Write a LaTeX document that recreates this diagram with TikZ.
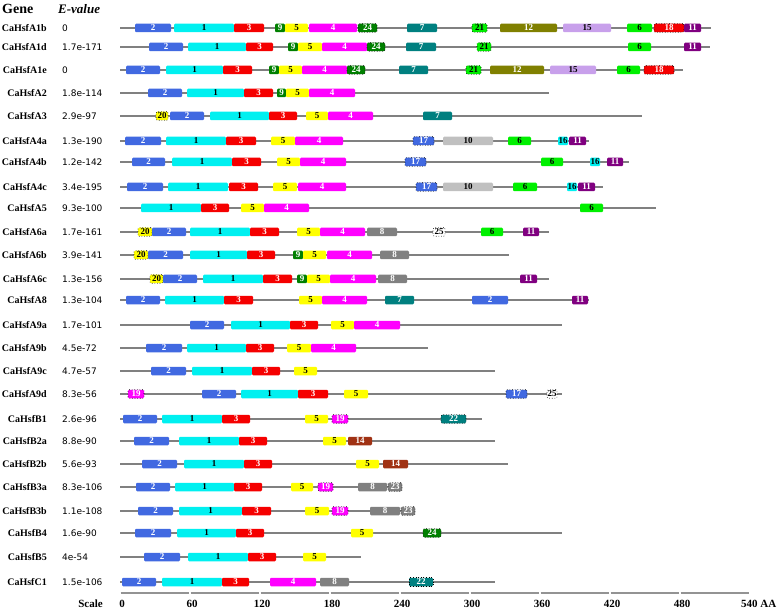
\documentclass[tikz,border=0pt]{standalone}
\usepackage{fontspec}
\setmainfont{Liberation Serif}
\newfontfamily\evfont{DejaVu Sans}
\definecolor{mcyan}{RGB}{0,240,240}
\definecolor{mblue}{RGB}{65,105,225}
\definecolor{mred}{RGB}{245,0,0}
\definecolor{mmagenta}{RGB}{255,0,255}
\definecolor{myellow}{RGB}{255,255,0}
\definecolor{mlime}{RGB}{0,240,0}
\definecolor{mteal}{RGB}{0,128,128}
\definecolor{mgray}{RGB}{128,128,128}
\definecolor{mgreen}{RGB}{0,128,0}
\definecolor{msilver}{RGB}{192,192,192}
\definecolor{mpurple}{RGB}{128,0,128}
\definecolor{molive}{RGB}{128,128,0}
\definecolor{mbrown}{RGB}{160,50,20}
\definecolor{mlilac}{RGB}{200,160,235}
\definecolor{backbone}{RGB}{128,128,128}

\newcommand{\generow}[5]{%
  \node[gene] (#2) at (47,#1) {CaHsf#2};
  \node[evalue] (#2-e) at (62,#1) {#3};
  \coordinate (#2-s) at (120,#1);
  \coordinate (#2-t) at (#4,#1);
  \draw[seq] (#2-s) -- (#2-t);
  \foreach \xa/\xb/\mn in {#5}
    \node[motif, mot\mn, minimum width={(\xb-\xa)*1pt}] (#2-\xa) at ({(\xa+\xb)/2},#1) {\mn};
}

\begin{document}
\begin{tikzpicture}[x=1pt, y=-1pt,
  gene/.style={anchor=east, inner sep=0pt, font=\bfseries\fontsize{10}{12}\selectfont},
  evalue/.style={anchor=west, inner sep=0pt, font=\evfont\fontsize{9}{11}\selectfont},
  head/.style={anchor=west, inner sep=0pt, font=\bfseries\fontsize{13}{15}\selectfont},
  seq/.style={draw=backbone, line width=1.1pt},
  scalebar/.style={draw=backbone!85, line width=2pt},
  ticklabel/.style={inner sep=0pt, font=\bfseries\fontsize{11}{13}\selectfont},
  motif/.style={rounded corners=1.2pt, inner sep=0pt, minimum height=8.5pt, text=black,
    font=\bfseries\fontsize{9}{9}\selectfont},
  dotmot/.style={draw=black, dotted, line width=0.6pt},
  mot1/.style={fill=mcyan},
  mot2/.style={fill=mblue, text=white},
  mot3/.style={fill=mred, text=white},
  mot4/.style={fill=mmagenta, text=white},
  mot5/.style={fill=myellow},
  mot6/.style={fill=mlime},
  mot7/.style={fill=mteal, text=white},
  mot8/.style={fill=mgray, text=white},
  mot9/.style={fill=mgreen, text=white},
  mot10/.style={fill=msilver},
  mot11/.style={fill=mpurple, text=white},
  mot12/.style={fill=molive, text=white},
  mot14/.style={fill=mbrown, text=white},
  mot15/.style={fill=mlilac},
  mot16/.style={fill=mcyan},
  mot17/.style={mot2, dotmot},
  mot18/.style={mot3, dotmot},
  mot19/.style={mot4, dotmot},
  mot20/.style={mot5, dotmot},
  mot21/.style={mot6, dotmot},
  mot22/.style={mot7, dotmot},
  mot23/.style={mot8, dotmot},
  mot24/.style={mot9, dotmot},
  mot25/.style={fill=white, dotmot}]
\useasboundingbox (0,0) rectangle (778,609);

\node[head, font=\bfseries\fontsize{14}{16}\selectfont] (genehead) at (2,9) {Gene};
\node[head, font=\bfseries\itshape\fontsize{13}{15}\selectfont] (evhead) at (58,9) {E-value};

\generow{28}{A1b}{0}{711}{135/171/2, 174/234/1, 234/264/3, 275/285/9, 285/308/5, 309/357/4, 358/377/24, 407/437/7, 472/487/21, 500/557/12, 563/611/15, 627/652/6, 654/684/18, 684/701/11}
\generow{47}{A1d}{1.7e-171}{710}{149/183/2, 188/246/1, 246/273/3, 288/298/9, 298/322/5, 322/367/4, 367/385/24, 406/436/7, 477/491/21, 628/651/6, 684/701/11}
\generow{70}{A1e}{0}{683}{126/160/2, 166/223/1, 223/252/3, 269/279/9, 279/302/5, 302/347/4, 347/365/24, 399/428/7, 466/481/21, 490/544/12, 550/596/15, 617/640/6, 644/674/18}
\generow{93}{A2}{1.8e-114}{549}{148/182/2, 187/244/1, 244/273/3, 277/286/9, 286/309/5, 309/355/4}
\generow{116}{A3}{2.9e-97}{642}{156/168/20, 170/204/2, 210/269/1, 269/297/3, 306/328/5, 328/373/4, 423/452/7}
\generow{141}{A4a}{1.3e-190}{589}{125/161/2, 166/226/1, 226/256/3, 271/295/5, 295/343/4, 413/434/17, 443/493/10, 508/531/6, 558/568/16, 569/586/11}
\generow{162}{A4b}{1.2e-142}{629}{132/165/2, 172/232/1, 232/261/3, 277/300/5, 300/346/4, 405/426/17, 541/563/6, 590/600/16, 607/623/11}
\generow{187}{A4c}{3.4e-195}{603}{127/163/2, 168/228/1, 229/258/3, 273/297/5, 298/346/4, 416/437/17, 443/493/10, 513/537/6, 567/577/16, 578/595/11}
\generow{208}{A5}{9.3e-100}{656}{141/201/1, 201/229/3, 241/264/5, 264/309/4, 580/603/6}
\generow{232}{A6a}{1.7e-161}{549}{138/152/20, 152/186/2, 190/250/1, 250/279/3, 297/320/5, 320/365/4, 367/397/8, 433/445/25, 481/503/6, 523/539/11}
\generow{255}{A6b}{3.9e-141}{509}{134/148/20, 148/183/2, 190/247/1, 247/275/3, 293/303/9, 303/326/5, 327/372/4, 380/409/8}
\generow{279}{A6c}{1.3e-156}{549}{150/163/20, 163/197/2, 203/263/1, 263/292/3, 297/307/9, 307/330/5, 330/376/4, 378/407/8, 520/537/11}
\generow{300}{A8}{1.3e-104}{589}{126/160/2, 165/224/1, 224/253/3, 299/322/5, 322/367/4, 385/414/7, 472/508/2, 572/588/11}
\generow{325}{A9a}{1.7e-101}{562}{190/224/2, 231/290/1, 290/318/3, 331/354/5, 354/400/4}
\generow{348}{A9b}{4.5e-72}{428}{146/182/2, 187/246/1, 246/274/3, 287/311/5, 311/356/4}
\generow{371}{A9c}{4.7e-57}{495}{151/186/2, 192/252/1, 252/280/3, 294/317/5}
\generow{394}{A9d}{8.3e-56}{562}{128/144/19, 202/236/2, 241/298/1, 298/328/3, 344/368/5, 506/527/17, 547/557/25}
\generow{419}{B1}{2.6e-96}{482}{123/157/2, 162/222/1, 222/250/3, 305/328/5, 332/348/19, 441/466/22}
\generow{441}{B2a}{8.8e-90}{495}{134/169/2, 179/239/1, 239/267/3, 323/346/5, 348/372/14}
\generow{464}{B2b}{5.6e-93}{508}{142/177/2, 184/244/1, 244/272/3, 356/379/5, 383/408/14}
\generow{487}{B3a}{8.3e-106}{402}{136/170/2, 175/234/1, 234/262/3, 291/313/5, 318/333/19, 358/387/8, 388/402/23}
\generow{511}{B3b}{1.1e-108}{415}{138/173/2, 179/242/1, 242/271/3, 305/329/5, 332/348/19, 370/400/8, 401/415/23}
\generow{533}{B4}{1.6e-90}{562}{135/171/2, 177/236/1, 236/264/3, 351/373/5, 423/441/24}
\generow{557}{B5}{4e-54}{361}{144/180/2, 188/248/1, 248/276/3, 303/326/5}
\generow{582}{C1}{1.5e-106}{495}{122/156/2, 162/222/1, 222/249/3, 270/316/4, 320/349/8, 409/433/22}

\node[ticklabel, anchor=east] (scale) at (103,604) {Scale};
\foreach \t [count=\i from 0] in {0,60,...,480} {
  \draw[scalebar] ({120+\i*70+0.6},593) -- ({190+\i*70-0.6},593);
  \node[ticklabel] (tick\t) at ({122+\i*70},604) {\t};
}
\node[ticklabel, anchor=west] (tick540) at (741,604) {540 AA};
\end{tikzpicture}
\end{document}
